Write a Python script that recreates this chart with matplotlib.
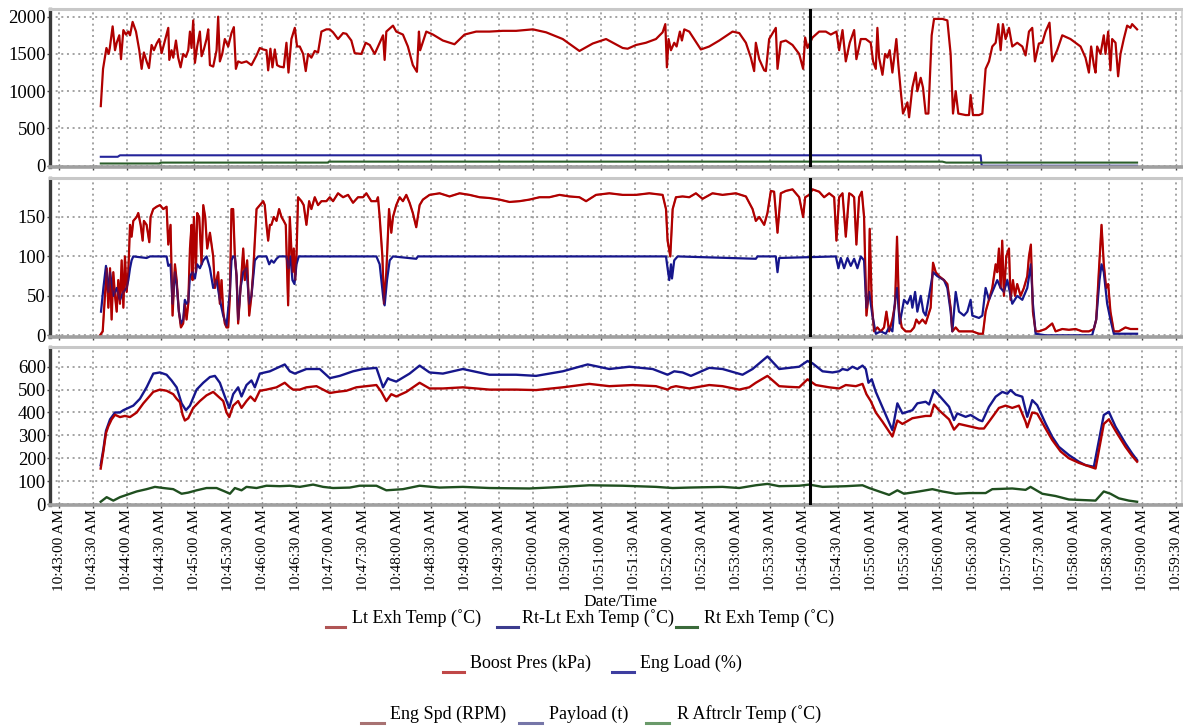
import matplotlib
matplotlib.use('Agg')
import matplotlib.pyplot as plt
from matplotlib.ticker import FuncFormatter
from matplotlib.lines import Line2D

plt.rcParams['font.family'] = ['Liberation Serif', 'DejaVu Serif']

# ---------------- data (time in seconds after 10:43:00 AM) ----------------
eng_spd_t = [37, 39, 42, 44, 45, 47.5, 49.6, 51.1, 53.4, 54.9,
             57, 59.3, 61.4, 62.9, 65.2, 68.2, 71.1, 73.2, 75.2, 77.6,
             79.7, 82, 84.1, 86.5, 88.8, 90.9, 93.8, 96.8, 97.7, 99.7,
             101.2, 103.6, 105.6, 107.7, 110, 112.4, 114.5, 116, 117.4, 118.9,
             120.4, 122.4, 124.8, 126.3, 128.3, 130.7, 132.2, 133.7, 136.6, 139.6,
             141, 142.5, 144.6, 146.9, 149.9, 152.8, 154.9, 156.7, 158.7, 161.7,
             166.1, 170.5, 175, 177.9, 180.9, 183.8, 185.3, 187.3, 189.1, 191.2,
             193.2, 195.6, 199.1, 201.5, 203.3, 205.9, 208.9, 210.9, 213.3, 216.3,
             218.6, 220.7, 223.6, 226.6, 229.5, 232.5, 236.9, 239.9, 242.8, 247.2,
             251.7, 254.6, 259, 262, 267.9, 271.7, 275.3, 279.7, 284.1, 287.1,
             288.5, 290,
             295.9, 298.8, 304.7, 309.1, 313.5, 317.1, 318.9, 320, 325.4, 331.3,
             340.1, 350.4, 359.3, 369.6, 381.4, 393.2, 405, 419.8, 431.6, 446.3,
             461.1, 472.9, 484.7, 499.4, 503.8, 511.2, 520, 528.9, 534.8, 537.2,
             538.6, 540.1, 542.2, 545.1, 547.2, 550.1, 551.9, 554, 558.4, 568.7,
             576.1, 585, 596.8, 602.7, 608.6, 613, 615.9, 617.4, 620.4, 624.8,
             626.3, 629.2, 635.1, 636.6, 639.5,
             644, 649.9, 655.8, 659.3, 661.1, 663.2, 667.6, 673.5, 679.4, 683.8,
             688.8, 691.2, 694.2, 697.1, 700.6, 704.5, 706.5, 710.4, 714.8, 719.2,
             721.3, 723.7, 725.1, 726.6, 729.6, 731.9, 734, 736, 738.4, 741.9,
             743.7, 745.8, 747.8, 751.7, 753.2, 756.1, 759.1, 760.5, 763.5, 765.5,
             767.9, 770.3, 773.2, 775.3, 782.7, 787.1, 790, 792.1, 794.5, 796.8,
             803.3, 806.3, 807.7, 809.8, 815.1, 818.1, 821, 824, 826.9, 829.9,
             832.2, 834.3, 836.3, 838.7, 841.7, 844.6, 849, 853.5, 856.4, 859.4,
             862.3, 864.7, 868.2, 871.2, 874.1, 877.6, 880, 884.4, 888.9, 896.2,
             900.7, 905.1, 909.5, 912.5, 914.5, 916.9, 918.4, 919.8, 922.8, 925.7,
             927.2, 929.6, 931.6, 933.1, 936.1, 938.4, 940.5, 943.4, 946.4, 949.3,
             950.8, 955.2]
eng_spd_v = [800, 1300, 1580, 1500, 1580, 1870, 1550, 1650, 1750, 1430,
             1820, 1760, 1800, 1750, 1930, 1800, 1550, 1300, 1520, 1400,
             1310, 1620, 1550, 1640, 1700, 1510, 1680, 1850, 1420, 1550,
             1450, 1680, 1450, 1320, 1500, 1460, 1550, 1800, 1580, 1950,
             1380, 1600, 1800, 1470, 1560, 1700, 1830, 1350, 1330, 1550,
             2000, 1400, 1500, 1700, 1600, 1780, 1860, 1300, 1400, 1380,
             1400, 1350, 1480, 1580, 1560, 1550, 1280, 1570, 1320, 1560,
             1350, 1330, 1320, 1650, 1250, 1700, 1850, 1600, 1600, 1500,
             1270, 1500, 1450, 1540, 1520, 1800, 1830, 1830, 1790, 1700,
             1780, 1770, 1680, 1510, 1500, 1650, 1620, 1500, 1650, 1750,
             1420, 1800,
             1880, 1800, 1760, 1600, 1350, 1260, 1800, 1550, 1800, 1760,
             1680, 1630, 1760, 1800, 1800, 1810, 1810, 1830, 1790, 1700,
             1540, 1640, 1700, 1580, 1570, 1620, 1650, 1700, 1790, 1900,
             1320, 1700, 1550, 1650, 1600, 1800, 1680, 1830, 1800, 1560,
             1600, 1680, 1800, 1780, 1650, 1450, 1270, 1650, 1430, 1280,
             1270, 1700, 1850, 1300, 1660,
             1680, 1620, 1500, 1300, 1720, 1580, 1720, 1800, 1800, 1760,
             1800, 1550, 1820, 1400, 1650, 1820, 1430, 1700, 1700, 1650,
             1400, 1300, 1850, 1450, 1220, 1500, 1450, 1550, 1250, 1700,
             1350, 1000, 700, 850, 650, 1050, 1250, 1000, 1180, 1050,
             700, 700, 1750, 1970, 1970, 1950, 1500, 700, 1000, 700,
             680, 680, 950, 680, 680, 700, 1300, 1400, 1600, 1650,
             1900, 1550, 1900, 1700, 1850, 1600, 1650, 1600, 1480, 1800,
             1850, 1400, 1640, 1650, 1800, 1920, 1400, 1550, 1750, 1700,
             1650, 1600, 1450, 1250, 1600, 1350, 1250, 1600, 1500, 1750,
             1500, 1800, 1280, 1700, 1650, 1200, 1500, 1700, 1880, 1850,
             1900, 1830]

payload_t = [37, 52, 54, 816.6, 817.5, 955.2]
payload_v = [120, 120, 140, 140, 0, 0]

aftrclr_t = [37, 89.4, 90, 238.4, 239, 782.7, 786, 955.2]
aftrclr_v = [30, 30, 42, 42, 55, 55, 42, 42]

boost_t = [36.3, 38.7, 40.7, 42.2, 43.7, 45.2, 46.6, 48.1, 49.6, 51.1,
           52.5, 54, 55.5, 57, 58.4, 59.9, 61.4, 62.9, 64.3, 65.8,
           68.8, 70.2, 72.3, 74.1, 75.2, 77.6, 80, 81.1, 83.5, 86.5,
           89.4, 92.4, 95.3, 96.8, 98.8, 100.6, 102.7, 104.2, 106.2, 108,
           110, 111.5, 113, 114.5, 116, 117.4, 118.3, 119.5, 121.3, 122.4,
           124.2, 126.3, 127.8, 129.5, 131.3, 133.7, 136.6, 138.1, 139.6, 141,
           142.5, 144, 145.5, 146.9, 148.4, 149.9, 151.4, 152.8, 154.3, 155.8,
           157.3, 158.7, 160.8, 163.2, 164.6, 166.7, 168.5, 170.5, 172, 175,
           177.9, 180.9, 182.3, 183.8, 185.3, 186.8, 188.2, 190.3, 192.7, 195,
           197.1, 199.1, 200.9, 203, 204.5, 206.8, 208, 209.2, 210.4, 211.8,
           214.8, 216.8, 219.2, 221.6, 223.6, 226.6, 229.5, 232.5, 236.9, 239.9,
           242.8, 247.2, 251.7, 256.1, 260.5, 264.9, 269.4, 272.3, 276.7, 281.2,
           282.6, 284.1, 286.5, 287.9, 290, 292.4,
           294.4, 295.9, 298.8, 301.8, 304.7, 307.7, 310.6, 313.5, 316.5, 319.5,
           322.4, 328.3, 337.2, 346, 354.9, 363.7, 372.6, 381.4, 390.3, 399.1,
           408, 416.8, 425.7, 434.5, 443.4, 452.2, 461.1, 467, 475.8, 487.6,
           499.4, 511.2, 523, 534.8, 537.8, 539.2, 541.6, 543.7, 546.6, 552.5,
           558.4, 564.3, 570.2, 579, 587.9, 599.7, 608.6, 614.5, 617.4, 620.4,
           624.8, 627.7, 630.7, 633.6, 636.6, 639.5,
           644, 649.9, 655.8, 659.3, 661.1, 664.7, 667.6, 673.5, 677.9, 682.4,
           686.8, 688.8, 691.2, 694.2, 697.1, 700.1, 702.4, 704.5, 706.5, 708.9,
           711.3, 713.3, 715.4, 717.2, 718.3, 720.1, 722.2, 725.1, 728.1, 731,
           733.1, 735.5, 738.4, 740.8, 742.5, 744.3, 746.7, 750.2, 754.6, 757.6,
           759.6, 762, 765, 767.9, 772.3, 774.4, 776.8, 779.7, 784.1, 787.1,
           790, 791.5, 794.5, 797.4, 803.3, 809.2, 815.1, 818.6, 821, 824,
           826.9, 829.9, 831.3, 832.8, 834.3, 835.7, 837.2, 839.3, 841.7, 843.1,
           845.2, 847, 849, 852, 854.9, 857.9, 859.4, 861.1, 862.9, 865.3,
           868.2, 874.1, 880, 883, 888.9, 894.8, 900.7, 906.6, 912.5, 916.9,
           919, 921.3, 923.7, 925.7, 927.8, 929.6, 931.6, 934.6, 939, 944.9,
           949.3, 955.2]
boost_v = [0, 5, 50, 85, 35, 85, 20, 80, 50, 30,
           70, 40, 95, 35, 100, 55, 80, 140, 125, 145,
           150, 155, 140, 120, 145, 140, 118, 150, 160, 163,
           165, 160, 163, 115, 140, 25, 90, 70, 30, 10,
           15, 40, 20, 40, 110, 140, 70, 150, 80, 155,
           150, 90, 165, 150, 110, 130, 100, 60, 70, 80,
           40, 70, 30, 15, 10, 10, 50, 160, 160, 100,
           75, 15, 60, 110, 70, 95, 25, 50, 80, 160,
           165, 170, 165, 140, 120, 140, 140, 150, 145, 160,
           150, 145, 140, 38, 150, 80, 110, 70, 100, 175,
           170, 165, 140, 170, 160, 175, 165, 170, 170, 175,
           170, 180, 175, 178, 168, 175, 175, 180, 170, 170,
           175, 150, 100, 40, 80, 160,
           130, 150, 165, 175, 170, 178, 168, 155, 137, 165,
           172, 178, 180, 176, 180, 178, 175, 174, 172, 169,
           170, 172, 175, 175, 178, 176, 175, 170, 178, 180,
           178, 178, 180, 178, 160, 120, 100, 160, 175, 176,
           175, 180, 173, 180, 178, 180, 176, 160, 145, 150,
           140, 155, 183, 182, 130, 180,
           183, 185, 175, 150, 175, 178, 185, 182, 175, 180,
           175, 120, 175, 180, 125, 180, 178, 175, 115, 175,
           182, 150, 25, 50, 135, 40, 5, 10, 5, 10,
           30, 5, 20, 40, 125, 30, 10, 5, 5, 10,
           20, 15, 20, 15, 35, 92, 80, 75, 70, 65,
           35, 5, 10, 5, 5, 5, 2, 2, 30, 45,
           60, 90, 80, 110, 60, 120, 50, 100, 110, 45,
           70, 50, 65, 50, 60, 75, 100, 115, 30, 5,
           5, 8, 15, 5, 8, 7, 8, 5, 5, 8,
           20, 80, 140, 90, 60, 65, 30, 5, 5, 10,
           8, 8]

eng_load_t = [37.2, 39.3, 41.6, 43.7, 45.2, 48.1, 51.1, 54, 57, 59.9,
              61.4, 62.9, 64.3, 65.8, 77.6, 80.6, 95.3, 96.8, 98.8, 100.6,
              102.7, 104.2, 106.2, 108, 110, 111.5, 113, 114.5, 116, 118.3,
              120.4, 122.4, 124.8, 127.8, 130.7, 133.7, 136.6, 139.6, 142.5, 145.5,
              148.4, 151.4, 152.8, 154.3, 155.8, 157.3, 158.7, 160.8, 163.2, 166.1,
              168.5, 170.5, 173.5, 176.4, 183.8, 186.2, 188.2, 190.3, 192.7, 195,
              201.5, 203.3, 205, 206.8, 208.6, 210.4, 212.4, 281.2, 284.1, 287.1,
              288.5, 290.6, 293, 295.9,
              316.5, 318, 537.8, 539.2, 540.7, 542.2, 543.1, 545.1, 548.1, 617.4,
              618.9, 635.1, 636.6, 638.1,
              688.3, 690.6, 692.7, 695.6, 698.6, 701.5, 704.5, 707.4, 710.4, 713.3,
              715.4, 717.8, 720.7, 723.7, 728.1, 732.5, 735.5, 738.4, 740.8, 742.5,
              744.9, 748.7, 751.7, 754.6, 756.1, 758.5, 760.5, 763.5, 765.8, 767.9,
              770.9, 774.4, 778.2, 784.1, 787.1, 790, 791.5, 794.5, 797.4, 801.8,
              804.8, 807.7, 809.2, 815.1, 818.1, 821, 824, 826.9, 831.3, 834.3,
              837.2, 840.2, 844.6, 849, 853.5, 857.9, 861.1, 862.9, 865.3, 874.1,
              915.4, 919, 921.9, 923.7, 925.7, 928.7, 931.6, 934.6, 955.2]
eng_load_v = [30, 60, 88, 55, 80, 50, 60, 45, 55, 60,
              70, 85, 95, 100, 98, 100, 100, 88, 90, 40,
              80, 65, 30, 15, 20, 45, 40, 42, 75, 80,
              72, 90, 85, 95, 100, 85, 60, 70, 45, 25,
              12, 55, 95, 100, 100, 75, 20, 60, 80, 85,
              40, 50, 95, 100, 100, 90, 95, 92, 97, 100,
              100, 85, 100, 70, 65, 90, 100, 100, 90, 50,
              38, 70, 95, 100,
              97, 100, 100, 85, 70, 90, 72, 95, 100, 97,
              100, 100, 80, 98,
              100, 85, 98, 85, 98, 88, 97, 85, 100, 95,
              35, 55, 25, 2, 5, 2, 10, 5, 45, 60,
              15, 45, 40, 50, 35, 55, 30, 50, 30, 25,
              50, 80, 75, 70, 60, 30, 5, 55, 30, 25,
              30, 45, 25, 22, 25, 60, 45, 55, 70, 60,
              55, 70, 40, 50, 45, 60, 90, 40, 2, 0,
              0, 20, 70, 90, 80, 40, 20, 2, 2]

lt_exh_t = [36.9, 39.3, 41.6, 43.7, 46.6, 49.6, 54, 58.4, 62.9, 68.8,
            74.7, 83.5, 89.4, 95.3, 101.2, 104.2, 107.1, 109.5, 111.5, 114.5,
            118.9, 124.8, 130.7, 136.6, 141, 145.5, 148.4, 150.8, 154.3, 158.7,
            161.7, 166.1, 169.6, 173.5, 177.9, 183.8, 192.7, 200, 204.5, 207.4,
            213.3, 219.2, 228.1, 234, 239.9, 245.8, 254.6, 263.4, 272.3, 281.2,
            285.6, 290,
            294.4, 298.8, 307.7, 319.5, 328.3, 340.1, 357.8, 381.4, 405, 422.7,
            446.3, 469.9, 487.6, 508.3, 528.9, 539.2, 542.2, 546.6, 558.4, 576.1,
            587.9, 602.6, 611.5, 617.4, 627.7, 638.1,
            647, 655.8, 663.2, 670.5, 682.4, 691.2, 697.1, 706, 711.9, 715.4,
            719.2, 723.7, 729.6, 738.4, 742.8, 747.3, 756.1, 762, 767.9, 772.3,
            775.3, 779.7, 788.6, 793, 797.4, 806.3, 815.1, 819.5, 824, 832.8,
            838.7, 844.6, 850.5, 856.4, 857.9, 862.3, 866.7, 874.1, 880, 887.4,
            894.8, 903.6, 909.5, 918.4, 925.7, 930.2, 936.1, 944.9, 950.8, 955.2]
lt_exh_v = [155, 230, 310, 340, 370, 390, 380, 385, 380, 400,
            440, 490, 500, 495, 480, 460, 445, 390, 365, 375,
            420, 450, 475, 490, 470, 450, 400, 380, 430, 450,
            420, 450, 470, 450, 495, 500, 510, 530, 510, 500,
            500, 510, 515, 500, 485, 490, 495, 510, 515, 520,
            490, 450,
            480, 470, 490, 530, 505, 505, 510, 500, 500, 498,
            510, 525, 515, 520, 515, 500, 510, 515, 505, 520,
            515, 500, 510, 530, 560, 515,
            512, 510, 545, 520, 510, 505, 520, 515, 525, 480,
            450, 400, 360, 295, 365, 350, 375, 380, 385, 385,
            435, 410, 370, 325, 350, 340, 330, 330, 360, 420,
            430, 420, 430, 360, 335, 400, 395, 330, 280, 230,
            200, 180, 170, 155, 350, 370, 320, 250, 210, 185]

rt_lt_exh_t = [36.9, 39.3, 41.6, 45.2, 49.6, 54, 57, 61.4, 65.8, 71.7,
               77.6, 83.5, 89.4, 95.3, 99.7, 104.2, 108.6, 112.4, 116, 121.9,
               127.8, 133.7, 138.1, 142.5, 146.9, 150.8, 154.3, 158.7, 161.7, 166.1,
               170.5, 173.5, 177.9, 186.8, 195.6, 200, 204.5, 208.9, 219.2, 231,
               239.9, 248.7, 260.5, 269.4, 281.2, 287.1, 291.5,
               292.9, 298.8, 310.6, 319.5, 328.3, 340.1, 357.8, 381.4, 405, 422.7,
               446.3, 468.4, 487.6, 505.3, 526, 539.2, 545.1, 552.5, 559.9, 576.1,
               587.9, 605.6, 614.5, 627.7, 638.1,
               647, 655.8, 663.2, 667.6, 676.5, 685.3, 691.2, 694.2, 698.6, 703,
               707.4, 711.9, 714.8, 717.2, 720.1, 723.7, 728.1, 738.4, 742.8, 747.3,
               756.1, 760.5, 767.9, 770.9, 775.3, 779.7, 788.6, 793, 795.9, 803.3,
               807.7, 815.1, 818.1, 824, 829.9, 835.8, 840.2, 843.1, 847.6, 853.5,
               857.9, 862.3, 866.7, 874.1, 880, 885.9, 894.8, 903.6, 909.5, 916.9,
               925.7, 930.2, 936.1, 944.9, 950.8, 955.2]
rt_lt_exh_v = [170, 240, 320, 370, 400, 400, 410, 420, 430, 460,
               510, 570, 575, 565, 540, 510, 440, 410, 430, 500,
               530, 555, 560, 530, 470, 420, 480, 510, 470, 520,
               540, 510, 570, 580, 600, 610, 580, 570, 590, 590,
               550, 560, 580, 590, 595, 510, 550,
               545, 535, 570, 605, 575, 570, 590, 565, 565, 560,
               580, 610, 590, 600, 590, 565, 580, 575, 560, 595,
               590, 565, 590, 645, 590,
               595, 600, 625, 615, 580, 575, 580, 590, 585, 600,
               590, 605, 590, 530, 545, 490, 440, 323, 440, 396,
               410, 440, 447, 435, 498, 475, 425, 367, 396, 381,
               389, 367, 362, 425, 469, 490, 482, 498, 478, 469,
               381, 454, 432, 352, 294, 250, 214, 185, 170, 163,
               389, 403, 338, 265, 221, 192]

rt_exh_t = [36.9, 42.2, 48.1, 54, 59.9, 68.8, 77.6, 85, 92.4, 101.2,
            108.6, 114.5, 121.9, 130.7, 139.6, 146.9, 151.4, 155.8, 161.7, 166.1,
            175, 183.8, 195.6, 204.5, 213.3, 225.1, 234, 242.8, 257.6, 266.4,
            281.2, 290,
            304.7, 319.5, 337.2, 357.8, 381.4, 416.8, 446.3, 469.9, 499.4, 528.9,
            543.7, 558.4, 587.9, 602.6, 617.4, 627.7, 638.1,
            655.8, 664.7, 676.5, 697.1, 711.9, 717.8, 726.6, 735.5, 742.8, 748.7,
            762, 773.8, 782.7, 794.5, 806.3, 821, 826.9, 844.6, 856.4, 860.8,
            871.2, 883, 894.8, 918.4, 925.7, 931.6, 939, 947.9, 955.2]
rt_exh_v = [10, 30, 15, 30, 40, 55, 65, 75, 70, 65,
            45, 50, 60, 70, 70, 55, 45, 70, 60, 75,
            70, 80, 78, 80, 75, 85, 75, 70, 72, 80,
            80, 60,
            65, 80, 72, 75, 70, 68, 75, 82, 80, 75,
            70, 72, 75, 70, 82, 88, 78,
            80, 85, 75, 78, 82, 70, 55, 40, 60, 45,
            55, 65, 55, 45, 48, 48, 65, 68, 62, 75,
            45, 35, 20, 15, 55, 45, 25, 15, 10]

cursor_t = 665.2
x_ticks = list(range(0, 991, 30))

panel1_yticks = [0, 500, 1000, 1500, 2000]
panel2_yticks = [0, 50, 100, 150]
panel3_yticks = [0, 100, 200, 300, 400, 500, 600]

legend_rows = [
    [("Lt Exh Temp (˚C)", '#b05555'), ("Rt-Lt Exh Temp (˚C)", '#3c3c8e'), ("Rt Exh Temp (˚C)", '#3a6a3a')],
    [("Boost Pres (kPa)", '#c04848'), ("Eng Load (%)", '#3e3ea0')],
    [("Eng Spd (RPM)", '#a87272'), ("Payload (t)", '#7676a8'), ("R Aftrclr Temp (˚C)", '#6a9a6a')],
]

# ---------------- figure ----------------
W, H = 1183, 726
fig = plt.figure(figsize=(W / 100, H / 100), dpi=100)
fig.patch.set_facecolor('white')

L, R = 50 / W, 1182 / W


def rect(top, bot):
    return [L, 1 - bot / H, R - L, (bot - top) / H]


ax1 = fig.add_axes(rect(9.3, 166.7))
ax2 = fig.add_axes(rect(178.3, 336.5))
ax3 = fig.add_axes(rect(346.7, 504.5))

RED, BLUE, GREEN = '#b00000', '#16168c', '#1f4f1f'


def tfmt(t, pos=None):
    t = int(round(t))
    m = 43 + t // 60
    s = t % 60
    return "10:%02d:%02d AM" % (m, s)


for ax in (ax1, ax2, ax3):
    ax.set_xlim(-8, 995)
    ax.set_xticks(x_ticks)
    ax.set_axisbelow(True)
    ax.grid(True, linestyle=(0, (1.3, 2.4)), color='#8a8a8a', linewidth=1.1)
    ax.spines['left'].set_color('#3a3a3a')
    ax.spines['left'].set_linewidth(2.4)
    ax.spines['bottom'].set_color('#a0a0a0')
    ax.spines['bottom'].set_linewidth(2.6)
    ax.spines['top'].set_color('#c8c8c8')
    ax.spines['top'].set_linewidth(2.2)
    ax.spines['right'].set_color('#d0d0d0')
    ax.spines['right'].set_linewidth(1.2)
    ax.tick_params(axis='y', labelsize=13.5, length=2, width=1, color='#444444', pad=1)
    ax.tick_params(axis='x', length=5, width=1, direction='inout', color='#444444')
    ax.axvline(cursor_t, color='black', lw=2.2, zorder=5)

ax1.plot(eng_spd_t, eng_spd_v, color=RED, lw=1.6)
ax1.plot(payload_t, payload_v, color='#24249a', lw=1.5)
ax1.plot(aftrclr_t, aftrclr_v, color='#2a5e2a', lw=1.5)
ax1.set_ylim(-13, 2099)
ax1.set_yticks(panel1_yticks)

ax2.plot(boost_t, boost_v, color=RED, lw=1.6)
ax2.plot(eng_load_t, eng_load_v, color=BLUE, lw=1.6)
ax2.plot(boost_t, boost_v, color=RED, lw=1.2, alpha=0.55)
ax2.set_ylim(-1.5, 199)
ax2.set_yticks(panel2_yticks)

ax3.plot(rt_lt_exh_t, rt_lt_exh_v, color=BLUE, lw=1.7)
ax3.plot(lt_exh_t, lt_exh_v, color=RED, lw=1.7)
ax3.plot(rt_exh_t, rt_exh_v, color=GREEN, lw=1.7)
ax3.set_ylim(-2, 687.5)
ax3.set_yticks(panel3_yticks)

for ax in (ax1, ax2):
    ax.tick_params(axis='x', labelbottom=False)

ax3.xaxis.set_major_formatter(FuncFormatter(tfmt))
ax3.tick_params(axis='x', labelsize=11, labelrotation=90, pad=1)

fig.text(620 / W, 1 - 602 / H, "Date/Time", fontsize=12.5, ha='center', va='center')

# legend (three rows beneath the chart)
row_y = [618, 663, 714]
row_items_x = [
    [(326, 345, 352), (497, 518, 522), (676, 697, 704)],
    [(443, 464, 470), (612, 634, 640)],
    [(361, 384, 390), (519, 542, 549), (646, 669, 677)],
]
for ry, items, xs in zip(row_y, legend_rows, row_items_x):
    for (label, col), (x0, x1, xt) in zip(items, xs):
        fig.add_artist(Line2D([x0 / W, x1 / W], [1 - (ry + 9) / H] * 2,
                              transform=fig.transFigure, color=col, lw=2.2))
        fig.text(xt / W, 1 - ry / H, label, fontsize=13, ha='left', va='center')

fig.savefig('out.png', dpi=100, facecolor='white')
